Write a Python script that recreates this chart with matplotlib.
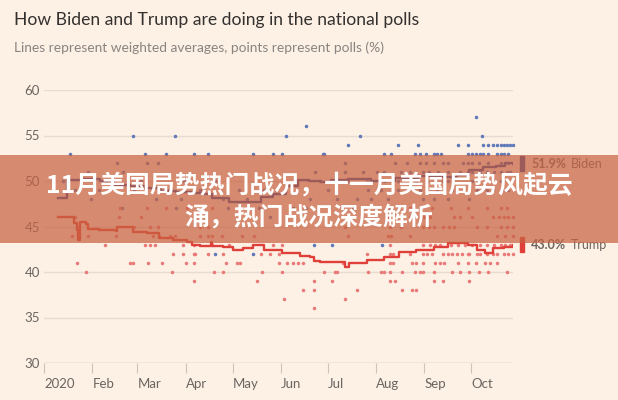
import matplotlib.pyplot as plt
from matplotlib.patches import Rectangle
from matplotlib.transforms import blended_transform_factory

# ----------------------------- data ------------------------------------------
# days counted from 1 Jan 2020
month_days   = [0, 31, 60, 91, 121, 152, 182, 213, 244, 274]
month_labels = ["2020", "Feb", "Mar", "Apr", "May", "Jun", "Jul", "Aug", "Sep", "Oct"]
y_ticks      = [30, 35, 40, 45, 50, 55, 60]

biden_line_day = [9, 14, 15, 25, 36, 45, 55, 65, 75, 85, 95, 102, 108, 119, 130,
                  139, 147, 155, 163, 170, 178, 184, 195, 210, 225, 240, 255, 265,
                  273, 282, 290, 296, 301]
biden_line_pct = [48.1, 48.1, 50.1, 50.2, 50.0, 49.6, 49.5, 49.2, 48.9, 48.8, 48.7,
                  48.6, 48.1, 47.7, 47.7, 48.2, 48.6, 49.5, 50.1, 50.0, 49.9, 50.1,
                  50.2, 50.0, 50.3, 50.6, 50.4, 50.7, 51.2, 51.5, 51.6, 52.0, 51.9]

trump_line_day = [9, 17, 19, 21, 22, 23, 27, 28, 35, 46, 47, 54, 57, 66, 74, 83, 92,
                  95, 100, 107, 108, 115, 121, 128, 134, 141, 150, 153, 164, 171,
                  173, 177, 185, 193, 196, 207, 218, 228, 239, 250, 259, 265, 272,
                  278, 283, 288, 295, 301]
trump_line_pct = [46.0, 46.0, 45.4, 44.6, 43.5, 45.5, 45.3, 44.7, 44.6, 44.5, 45.0,
                  45.0, 44.4, 44.3, 43.7, 43.5, 43.3, 43.0, 42.9, 43.3, 42.9, 42.8,
                  42.4, 42.6, 43.0, 42.4, 42.4, 42.1, 41.8, 41.7, 41.2, 41.1, 41.1,
                  40.6, 41.0, 41.3, 41.6, 42.2, 42.4, 42.8, 43.2, 43.2, 43.0, 42.4,
                  42.1, 42.6, 42.8, 43.0]

# polls: percentage -> days the poll was published
biden_polls = {
    57: [277],
    56: [168],
    55: [57, 84, 155, 203, 281],
    54: [195, 227, 240, 266, 272, 282, 285, 288, 291, 293, 295, 297, 299, 301],
    53: [17, 65, 78, 96, 105, 134, 147, 153, 179, 180, 218, 223, 238, 241, 245,
         250, 252, 255, 272, 275, 277, 280, 282, 285, 291, 293, 295, 298],
    52: [47, 66, 73, 193, 225, 233, 241, 245, 250, 256, 259, 269, 272, 275, 279,
         285, 293, 298],
    51: [28, 51, 174, 193, 205, 214, 218, 229, 235, 243, 247, 253, 259, 267, 272,
         275, 280, 284, 289, 293, 297, 299],
    50: [12, 40, 62, 90, 110, 177, 195, 207, 218, 227, 239, 246, 256, 259, 275, 293],
    49: [20, 35, 58, 80, 100, 125, 141, 182, 208, 216, 227, 241, 252, 262, 278,
         284, 288, 294, 298],
    48: [30, 72, 88, 115, 130, 171, 188, 201, 210, 221, 243, 250, 259, 273],
    47: [50, 85, 118, 138, 160, 168, 183, 198, 222],
    46: [100, 145],
    43: [173, 185, 217],
    42: [110, 134],
}
trump_polls = {
    47: [49, 66, 78, 92, 108, 235, 249, 261, 272, 284, 293, 297],
    46: [20, 48, 62, 177, 195, 220, 235, 240, 244, 248, 263, 267, 275, 288, 292,
         295, 298, 301],
    45: [21, 58, 68, 73, 100, 105, 193, 222, 229, 243, 247, 250, 256, 260, 263,
         278, 284, 293, 297, 301],
    44: [18, 28, 46, 70, 74, 81, 84, 100, 105, 108, 114, 127, 135, 195, 221, 223,
         235, 291, 296, 301],
    43: [39, 65, 68, 71, 89, 96, 108, 119, 147, 153, 222, 243, 248, 251, 254, 261,
         266, 270, 275, 280, 284, 289, 293, 296, 299],
    42: [83, 89, 96, 97, 105, 115, 139, 145, 151, 207, 222, 224, 235, 243, 246,
         249, 256, 259, 262, 265, 268, 272, 273, 278, 280, 284, 288, 291, 295, 298, 301],
    41: [21, 55, 57, 67, 76, 91, 96, 117, 124, 126, 151, 156, 160, 163, 166, 192,
         222, 224, 236, 239, 243, 251, 254, 257, 266, 272, 277, 283, 286, 291],
    40: [27, 82, 109, 115, 140, 153, 180, 187, 188, 208, 216, 218, 222, 230, 238,
         241, 243, 250, 262, 267, 273, 279, 285, 297],
    39: [96, 137, 173, 185, 222, 225, 250, 256, 273],
    38: [166, 173, 201, 230, 236, 239],
    37: [154, 193],
    36: [173],
}

biden_now = 51.9
trump_now = 43.0

# ----------------------------- style -----------------------------------------
BG        = "#fdf1e6"
GRID      = "#e8dcd1"
TEXT_GREY = "#6b6560"
BIDEN_C   = "#34469a"
BIDEN_DOT = "#6079ba"
TRUMP_C   = "#e0403a"
TRUMP_DOT = "#ea7a78"
BANNER_C  = (0.78, 0.39, 0.26)

plt.rcParams['font.family'] = ['Lato', 'DejaVu Sans']

fig = plt.figure(figsize=(6.18, 4.0), dpi=100, facecolor=BG)
ax = fig.add_axes([44 / 618, 37 / 400, 469 / 618, 273 / 400])
ax.set_facecolor(BG)

# poll dots
for pct, days in biden_polls.items():
    ax.scatter(days, [pct] * len(days), s=6.5, color=BIDEN_DOT, lw=0, zorder=2, clip_on=False)
for pct, days in trump_polls.items():
    ax.scatter(days, [pct] * len(days), s=6.5, color=TRUMP_DOT, lw=0, zorder=2, clip_on=False)

# weighted averages
ax.step(biden_line_day, biden_line_pct, where='post', color=BIDEN_C, lw=1.7, zorder=3)
ax.step(trump_line_day, trump_line_pct, where='post', color=TRUMP_C, lw=1.7, zorder=3)

# axes
ax.set_xlim(0, 301)
ax.set_ylim(30, 60)
for s in ax.spines.values():
    s.set_visible(False)
ax.set_yticks(y_ticks)
ax.set_yticklabels([str(v) for v in y_ticks])
ax.grid(axis='y', color=GRID, lw=1.0, zorder=0)
ax.set_axisbelow(True)
ax.tick_params(axis='y', length=0, pad=3, labelsize=9.5, labelcolor=TEXT_GREY)
ax.set_xticks(month_days)
ax.set_xticklabels(month_labels, ha='left')
ax.tick_params(axis='x', length=7, width=0.8, color="#cfc3b8", pad=4,
               labelsize=9.5, labelcolor=TEXT_GREY)
ax.axhline(30, color="#d8ccc1", lw=1.0, zorder=1)

# end labels
tr = blended_transform_factory(ax.transAxes, ax.transData)
for val, name, col in [(biden_now, "Biden", BIDEN_C), (trump_now, "Trump", TRUMP_C)]:
    ax.add_patch(Rectangle((1.0 + 7 / 469, val - 0.85), 4 / 469, 1.7, transform=tr,
                           color=col, clip_on=False, zorder=4))
    ax.text(1.0 + 18 / 469, val, f"{val:.1f}%", transform=tr, fontsize=9,
            fontweight='bold', color=TEXT_GREY, va='center', ha='left')
    ax.text(1.0 + 58 / 469, val, name, transform=tr, fontsize=9,
            color=TEXT_GREY, va='center', ha='left')

# titles
fig.text(14 / 618, 1 - 20 / 400, "How Biden and Trump are doing in the national polls",
         fontsize=12.6, color="#33302e", va='center', ha='left')
fig.text(14 / 618, 1 - 48 / 400, "Lines represent weighted averages, points represent polls (%)",
         fontsize=9.9, color="#8a8480", va='center', ha='left')

# overlay banner
fig.add_artist(Rectangle((0, 1 - 243 / 400), 1, 88 / 400, transform=fig.transFigure,
                         color=BANNER_C, alpha=0.72, lw=0, zorder=10))
cjk = ['Noto Sans CJK SC', 'DejaVu Sans']
fig.text(0.5, 1 - 185 / 400, "11月美国局势热门战况，十一月美国局势风起云",
         fontsize=17.9, fontweight='bold', color='white', family=cjk,
         ha='center', va='center', zorder=11)
fig.text(0.5, 1 - 217 / 400, "涌，热门战况深度解析",
         fontsize=17.9, fontweight='bold', color='white', family=cjk,
         ha='center', va='center', zorder=11)

fig.savefig("out.png", dpi=100, facecolor=BG)
